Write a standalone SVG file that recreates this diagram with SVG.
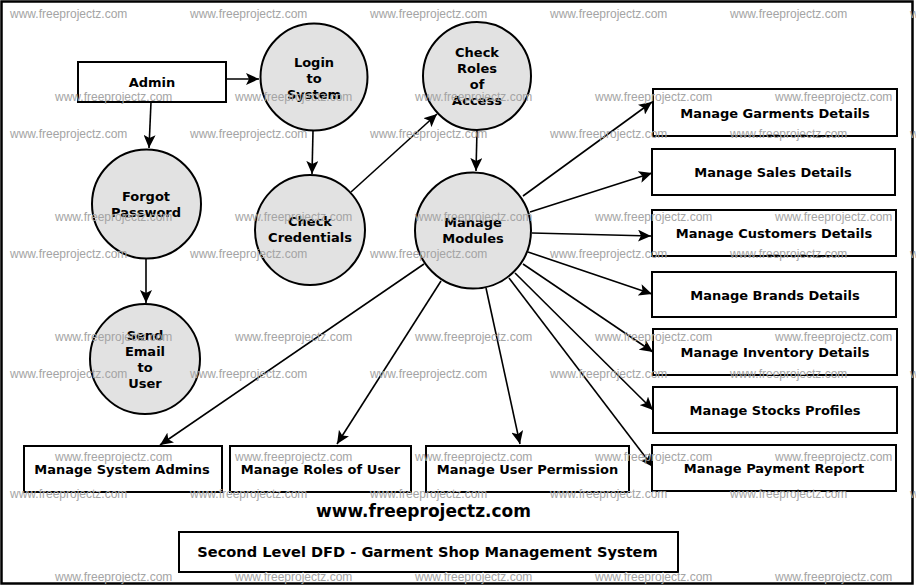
<svg xmlns="http://www.w3.org/2000/svg" width="916" height="587" viewBox="0 0 916 587">
<defs>
<style>
.box{fill:#fff;stroke:#000;stroke-width:2}
.proc{fill:#e2e2e2;stroke:#000;stroke-width:2}
.t{font-family:"DejaVu Sans",Verdana,sans-serif;font-weight:bold;font-size:13px;fill:#000;text-anchor:middle}
.wm{font-family:"Liberation Sans",Arial,sans-serif;font-size:12px;fill:#a4a4a4}
.c{stroke:#000;stroke-width:1.6;fill:none;marker-end:url(#ah)}
</style>
<marker id="ah" markerUnits="userSpaceOnUse" markerWidth="14" markerHeight="12" refX="13" refY="6" orient="auto" viewBox="0 0 14 12">
<path d="M0,0 L13,6 L0,12 L3,6 z" fill="#000"/>
</marker>
</defs>
<rect x="0" y="0" width="916" height="587" fill="#fff"/>
<rect x="1.5" y="1.5" width="911" height="582" fill="none" stroke="#000" stroke-width="2.5"/>

<g id="connectors">
<line class="c" x1="226" y1="79" x2="259" y2="79"/>
<line class="c" x1="151" y1="102" x2="149" y2="148"/>
<line class="c" x1="313" y1="131" x2="312" y2="174"/>
<line class="c" x1="351" y1="192" x2="437" y2="114"/>
<line class="c" x1="477" y1="130" x2="476" y2="171"/>
<line class="c" x1="146" y1="258" x2="146" y2="303"/>
<line class="c" x1="523" y1="196" x2="652" y2="102"/>
<line class="c" x1="530" y1="212" x2="652" y2="173"/>
<line class="c" x1="532" y1="233" x2="651" y2="236"/>
<line class="c" x1="528" y1="252" x2="652" y2="294"/>
<line class="c" x1="523" y1="264" x2="653" y2="352"/>
<line class="c" x1="515" y1="273" x2="653" y2="410"/>
<line class="c" x1="509" y1="278" x2="653" y2="467"/>
<line class="c" x1="486" y1="288" x2="520" y2="444"/>
<line class="c" x1="441" y1="281" x2="337" y2="444"/>
<line class="c" x1="424" y1="264" x2="160" y2="445"/>
</g>

<g id="admin"><rect class="box" x="78" y="62" width="148" height="40"/><text class="t" x="152" y="87">Admin</text></g>
<g id="login"><circle class="proc" cx="314" cy="77" r="53.5"/><text class="t" x="314" y="67">Login</text><text class="t" x="314" y="83">to</text><text class="t" x="314" y="99">System</text></g>
<g id="check-roles"><circle class="proc" cx="477" cy="76" r="54"/><text class="t" x="477" y="57">Check</text><text class="t" x="477" y="73">Roles</text><text class="t" x="477" y="89">of</text><text class="t" x="477" y="105">Access</text></g>
<g id="forgot"><circle class="proc" cx="146.5" cy="204" r="54.5"/><text class="t" x="146" y="201">Forgot</text><text class="t" x="146" y="217">Password</text></g>
<g id="check-cred"><circle class="proc" cx="310" cy="230" r="55"/><text class="t" x="310" y="226">Check</text><text class="t" x="310" y="242">Credentials</text></g>
<g id="modules"><circle class="proc" cx="473" cy="230.5" r="58"/><text class="t" x="473" y="227">Manage</text><text class="t" x="473" y="243">Modules</text></g>
<g id="send-email"><circle class="proc" cx="145" cy="359" r="55"/><text class="t" x="145" y="340">Send</text><text class="t" x="145" y="356">Email</text><text class="t" x="145" y="372">to</text><text class="t" x="145" y="388">User</text></g>

<g id="garments"><rect class="box" x="653" y="89" width="244" height="47"/><text class="t" x="775" y="118">Manage Garments Details</text></g>
<g id="sales"><rect class="box" x="652" y="149" width="243" height="46"/><text class="t" x="773" y="177">Manage Sales Details</text></g>
<g id="customers"><rect class="box" x="652" y="210" width="244" height="46"/><text class="t" x="774" y="238">Manage Customers Details</text></g>
<g id="brands"><rect class="box" x="652" y="272" width="244" height="45"/><text class="t" x="775" y="300">Manage Brands Details</text></g>
<g id="inventory"><rect class="box" x="653" y="329" width="244" height="46"/><text class="t" x="775" y="357">Manage Inventory Details</text></g>
<g id="stocks"><rect class="box" x="653" y="387" width="244" height="46"/><text class="t" x="775" y="415">Manage Stocks Profiles</text></g>
<g id="payment"><rect class="box" x="652" y="445" width="244" height="46"/><text class="t" x="774" y="473">Manage Payment Report</text></g>
<g id="sys-admins"><rect class="box" x="24" y="446" width="198" height="46"/><text class="t" x="122" y="474">Manage System Admins</text></g>
<g id="roles-user"><rect class="box" x="230" y="446" width="181" height="46"/><text class="t" x="320.5" y="474">Manage Roles of User</text></g>
<g id="user-perm"><rect class="box" x="426" y="446" width="203" height="46"/><text class="t" x="527.5" y="474">Manage User Permission</text></g>

<g id="site"><text class="t" x="423.5" y="517" style="font-size:17px">www.freeprojectz.com</text></g>
<g id="title"><rect class="box" x="179" y="532" width="499" height="40"/><text class="t" x="427.5" y="557" style="font-size:14.6px">Second Level DFD - Garment Shop Management System</text></g>

<g id="watermarks" class="wm">
<text x="10" y="18">www.freeprojectz.com</text><text x="190" y="18">www.freeprojectz.com</text><text x="370" y="18">www.freeprojectz.com</text><text x="550" y="18">www.freeprojectz.com</text><text x="730" y="18">www.freeprojectz.com</text><text x="910" y="18">www.freeprojectz.com</text>
<text x="55" y="101">www.freeprojectz.com</text><text x="235" y="101">www.freeprojectz.com</text><text x="415" y="101">www.freeprojectz.com</text><text x="595" y="101">www.freeprojectz.com</text><text x="775" y="101">www.freeprojectz.com</text>
<text x="10" y="138">www.freeprojectz.com</text><text x="190" y="138">www.freeprojectz.com</text><text x="370" y="138">www.freeprojectz.com</text><text x="550" y="138">www.freeprojectz.com</text><text x="730" y="138">www.freeprojectz.com</text><text x="910" y="138">www.freeprojectz.com</text>
<text x="55" y="221">www.freeprojectz.com</text><text x="235" y="221">www.freeprojectz.com</text><text x="415" y="221">www.freeprojectz.com</text><text x="595" y="221">www.freeprojectz.com</text><text x="775" y="221">www.freeprojectz.com</text>
<text x="10" y="258">www.freeprojectz.com</text><text x="190" y="258">www.freeprojectz.com</text><text x="370" y="258">www.freeprojectz.com</text><text x="550" y="258">www.freeprojectz.com</text><text x="730" y="258">www.freeprojectz.com</text><text x="910" y="258">www.freeprojectz.com</text>
<text x="55" y="341">www.freeprojectz.com</text><text x="235" y="341">www.freeprojectz.com</text><text x="415" y="341">www.freeprojectz.com</text><text x="595" y="341">www.freeprojectz.com</text><text x="775" y="341">www.freeprojectz.com</text>
<text x="10" y="378">www.freeprojectz.com</text><text x="190" y="378">www.freeprojectz.com</text><text x="370" y="378">www.freeprojectz.com</text><text x="550" y="378">www.freeprojectz.com</text><text x="730" y="378">www.freeprojectz.com</text><text x="910" y="378">www.freeprojectz.com</text>
<text x="55" y="461">www.freeprojectz.com</text><text x="235" y="461">www.freeprojectz.com</text><text x="415" y="461">www.freeprojectz.com</text><text x="595" y="461">www.freeprojectz.com</text><text x="775" y="461">www.freeprojectz.com</text>
<text x="10" y="498">www.freeprojectz.com</text><text x="190" y="498">www.freeprojectz.com</text><text x="370" y="498">www.freeprojectz.com</text><text x="550" y="498">www.freeprojectz.com</text><text x="730" y="498">www.freeprojectz.com</text><text x="910" y="498">www.freeprojectz.com</text>
<text x="55" y="581">www.freeprojectz.com</text><text x="235" y="581">www.freeprojectz.com</text><text x="415" y="581">www.freeprojectz.com</text><text x="595" y="581">www.freeprojectz.com</text><text x="775" y="581">www.freeprojectz.com</text>
</g>
</svg>
